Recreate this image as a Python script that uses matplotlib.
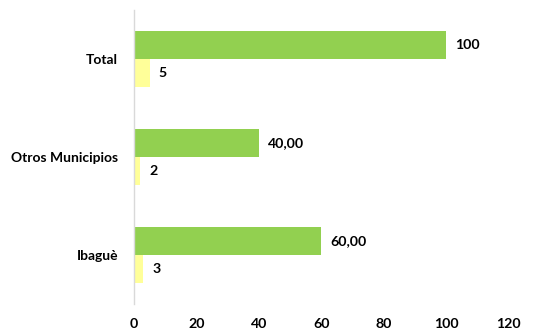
import matplotlib
matplotlib.use("Agg")
import matplotlib.pyplot as plt
import numpy as np

categories = ["Ibaguè", "Otros Municipios", "Total"]
green_values = [60, 40, 100]
green_labels = ["60,00", "40,00", "100"]
yellow_values = [3, 2, 5]
yellow_labels = ["3", "2", "5"]
x_ticks = [0, 20, 40, 60, 80, 100, 120]

plt.rcParams['font.family'] = ['Lato', 'DejaVu Sans']

fig = plt.figure(figsize=(5.33, 3.31), dpi=100)
ax = fig.add_axes([0.2514, 0.0816, 0.954 - 0.2514, 0.970 - 0.0816])

y = np.arange(len(categories))
h = 0.2857
ax.barh(y + h / 2, green_values, height=h, color="#92D050")
ax.barh(y - h / 2, yellow_values, height=h, color="#FFFF99")

txt = "#000000"
for yi, v, lab in zip(y, green_values, green_labels):
    ax.annotate(lab, (v, yi + h / 2), xytext=(9, 0), textcoords="offset pixels",
                va="center", ha="left", fontsize=10.2, fontweight="bold", color=txt)
for yi, v, lab in zip(y, yellow_values, yellow_labels):
    ax.annotate(lab, (v, yi - h / 2), xytext=(9, 0), textcoords="offset pixels",
                va="center", ha="left", fontsize=10.2, fontweight="bold", color=txt)

ax.set_xlim(0, 120)
ax.set_ylim(-0.5, 2.5)
ax.set_xticks(x_ticks)
ax.set_xticklabels([str(t) for t in x_ticks], fontsize=10.2, fontweight="bold", color=txt)
ax.set_yticks(y)
ax.set_yticklabels(categories, fontsize=10, fontweight="bold", color=txt)
ax.tick_params(axis="both", length=0)
ax.tick_params(axis="y", pad=11.5)
ax.tick_params(axis="x", pad=10)
for s in ["top", "right", "bottom"]:
    ax.spines[s].set_visible(False)
ax.spines["left"].set_color("#d9d9d9")
ax.spines["left"].set_linewidth(1)

fig.savefig("out.png", dpi=100)
